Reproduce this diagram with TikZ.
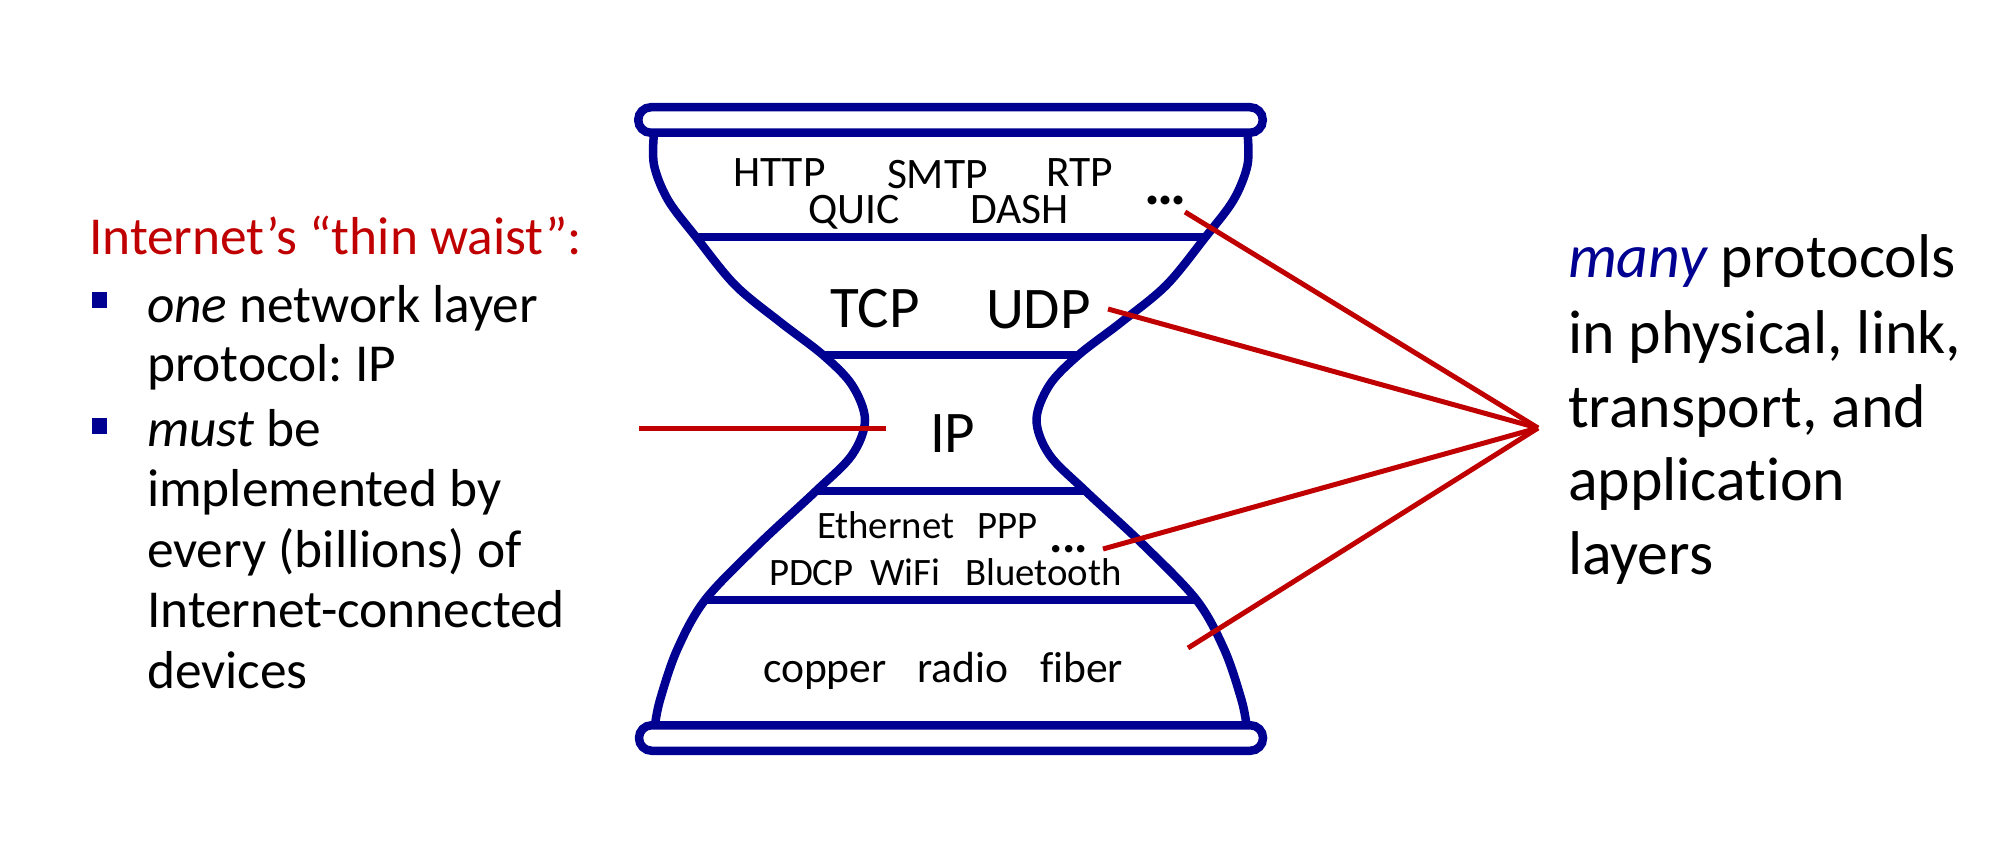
\documentclass[tikz,border=0pt]{standalone}
\usepackage{fontspec}
\setmainfont{Carlito}[Ligatures={NoCommon}]
\definecolor{hgblue}{RGB}{0,0,145}
\definecolor{hgred}{RGB}{192,0,0}
\begin{document}
\frenchspacing
\begin{tikzpicture}[x=0.5pt,y=-0.5pt,
  hg/.style={draw=hgblue,line width=4.25pt},
  redlink/.style={draw=hgred,line width=2.5pt},
  lbl/.style={anchor=base west,inner sep=0pt,outer sep=0pt},
  app/.style={lbl,font=\fontsize{21.75}{26}\selectfont},
  tra/.style={lbl,font=\fontsize{29.5}{34}\selectfont},
  lnk/.style={lbl,font=\fontsize{19.4}{23}\selectfont},
  phy/.style={lbl,font=\fontsize{21.8}{26}\selectfont},
  lefttxt/.style={lbl,font=\fontsize{26.7}{31}\selectfont},
  righttxt/.style={lbl,font=\fontsize{30.9}{36}\selectfont},
  bullet/.style={fill=hgblue,minimum size=7.7pt,inner sep=0pt,outer sep=0pt}]
\useasboundingbox (0,0) rectangle (2016,850);

% rims
\draw[hg,rounded corners=6.3pt] (638.25,107.25) rectangle (1262.75,132.75);
\draw[hg,rounded corners=6.3pt] (639,725.25) rectangle (1263,750.75);

% sides
\draw[hg] plot[smooth,tension=0.55] coordinates {(654,133) (654,165) (668,200) (696,237) (735,285) (780,322) (823,355) (852,385) (865,420) (852,455) (816,491) (758,545) (705,600) (677,650) (660,700) (655,725)};
\begin{scope}[shift={(1901.5,0)},xscale=-1]
\draw[hg] plot[smooth,tension=0.55] coordinates {(654,133) (654,165) (668,200) (696,237) (735,285) (780,322) (823,355) (852,385) (865,420) (852,455) (816,491) (758,545) (705,600) (677,650) (660,700) (655,725)};
\end{scope}

% layer separators
\draw[hg] (696,237) -- (1205.5,237);
\draw[hg] (823,355) -- (1078.5,355);
\draw[hg] (816,491) -- (1085.5,491);
\draw[hg] (705,600) -- (1196.5,600);

% application layer
\node[app] (http) at (733,187) {HTTP};
\node[app] (smtp) at (887,189) {SMTP};
\node[app] (rtp) at (1046,187) {RTP};
\node[app] (quic) at (808,223) {QUIC};
\node[app] (dash) at (970,224) {DASH};
\node[lbl,font=\fontsize{30}{34}\bfseries] (appdots) at (1144,205) {.\kern-1.5pt.\kern-1.5pt.};
% transport
\node[tra] (tcp) at (830,327) {TCP};
\node[tra] (udp) at (986,328) {UDP};
% network
\node[tra] (ip) at (930,452) {IP};
% link
\node[lnk] (eth) at (817,538) {Ethernet};
\node[lnk] (ppp) at (977,538) {PPP};
\node[lbl,font=\fontsize{25}{30}\bfseries] (lnkdots) at (1049.5,552) {.\kern-0.4pt.\kern-0.4pt.};
\node[lnk] (pdcp) at (769,585) {PDCP};
\node[lnk] (wifi) at (870,585) {WiFi};
\node[lnk] (bt) at (965,585) {Bluetooth};
% physical
\node[phy] (copper) at (763,682) {copper};
\node[phy] (radio) at (917,682) {radio};
\node[phy] (fiber) at (1040,682) {fiber};

% left text
\node[lefttxt,text=hgred] (title) at (89,255) {Internet’s “thin waist”:};
\node[bullet] (b1) at (99.5,300) {};
\node[bullet] (b2) at (99.5,426) {};
\node[lefttxt] (l1) at (147,322) {\itshape one\upshape{} network layer};
\node[lefttxt] (l2) at (147,381) {protocol: IP};
\node[lefttxt] (l3) at (147,446) {\itshape must\upshape{} be};
\node[lefttxt] (l4) at (147,506) {implemented by};
\node[lefttxt] (l5) at (147,567) {every (billions) of};
\node[lefttxt] (l6) at (147,627) {Internet-connected};
\node[lefttxt] (l7) at (147,688) {devices};

% right text
\node[righttxt] (r1) at (1568,278) {\textcolor{hgblue}{\itshape many} protocols};
\node[righttxt] (r2) at (1568,353) {in physical, link,};
\node[righttxt] (r3) at (1568,427) {transport, and};
\node[righttxt] (r4) at (1568,500) {application};
\node[righttxt] (r5) at (1568,574) {layers};

% red connectors
\coordinate (apex) at (1538,428);
\coordinate (ipL) at (639,428);
\coordinate (ipR) at (886,428);
\coordinate (appS) at (1185,212);
\coordinate (udpS) at (1108,309);
\coordinate (lnkS) at (1103,549);
\coordinate (phyS) at (1188,648);
\draw[redlink] (ipL) -- (ipR);
\draw[redlink] (appS) -- (apex);
\draw[redlink] (udpS) -- (apex);
\draw[redlink] (lnkS) -- (apex);
\draw[redlink] (phyS) -- (apex);
\end{tikzpicture}
\end{document}
